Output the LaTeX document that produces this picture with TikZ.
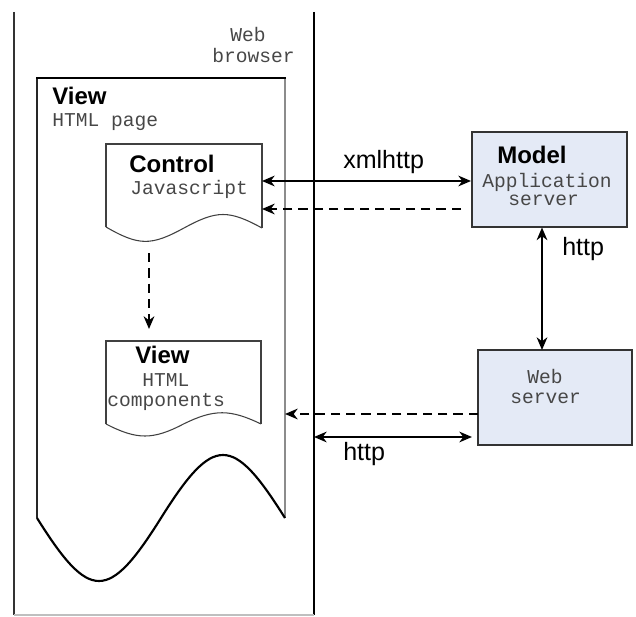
\documentclass[tikz,border=0pt]{standalone}
\usepackage{fontspec}
\setmainfont{Liberation Sans}
\newfontfamily\monofont{Liberation Mono}
\usetikzlibrary{arrows.meta}
\definecolor{srvfill}{RGB}{228,234,246}
\def\px{0.75pt}
\tikzset{
  bold/.style={inner sep=0pt, anchor=base west, font=\fontsize{18}{20}\selectfont\bfseries},
  lbl/.style={inner sep=0pt, anchor=base west, font=\fontsize{18.8}{21}\selectfont},
  mono/.style={inner sep=0pt, anchor=base west, text=black!72, font=\fontsize{14.7}{16}\monofont},
  srvbox/.style={draw=black!80, fill=srvfill, line width=1pt, inner sep=0pt},
  tip/.style={-{Stealth[length=9.5pt,width=8pt,inset=3pt]}},
  tips/.style={{Stealth[length=9.5pt,width=8pt,inset=3pt]}-{Stealth[length=9.5pt,width=8pt,inset=3pt]}},
  conn/.style={line width=1.5pt},
  dconn/.style={line width=2pt, dash pattern=on 7pt off 4.5pt},
  docline/.style={draw=black!75, line width=0.8pt},
}
\begin{document}
\begin{tikzpicture}[x=0.75pt,y=-0.75pt]
\useasboundingbox (0,0) rectangle (636,617);
% browser
\draw[black!80, line width=1pt] (14,12) -- (14,615);
\draw[black, line width=1pt] (314,12) -- (314,615);
\draw[black!25, line width=1pt] (14,615) -- (314,615);
\node[mono] (wb1) at (230,42) {Web};
\node[mono] (wb2) at (212,63) {browser};
% page
\draw[black!85, line width=0.8pt] (37,78) -- (37,518);
\draw[black!45, line width=1pt] (285,78) -- (285,518);
\draw[black, line width=2pt] (36,78) -- (286,78);
\draw[black, line width=1.6pt] (285,518) .. controls (232.4,434) and (213.6,434) .. (161,518)
   .. controls (108.4,602) and (89.6,602) .. (37,518);
\node[bold] (pv) at (52,104) {View};
\node[mono] (ph) at (52,127) {HTML page};
% control doc
\draw[docline] (106,227) -- (106,144) -- (262,144) -- (262,228);
\draw[docline] (262,228) .. controls (229,210) and (217,210) .. (184,228)
   .. controls (151,246) and (139,246) .. (106,227);
\coordinate (ctrlA) at (262,181);
\coordinate (ctrlB) at (262,209);
\coordinate (ctrlS) at (149,253);
\node[bold] (ct) at (129,172) {Control};
\node[mono] (cj) at (130,195) {Javascript};
% view components doc
\draw[docline] (106,424) -- (106,341) -- (261,341) -- (261,424);
\draw[docline] (261,424) .. controls (230,409) and (214,409) .. (183.5,424)
   .. controls (153,440) and (137,440) .. (106,424);
\coordinate (viewT) at (149,329);
\node[bold] (vt) at (135,363) {View};
\node[mono] (vh) at (142,386) {HTML};
\node[mono] (vc) at (107,406) {components};
% page edge coords
\coordinate (pageR) at (285,414);
\coordinate (brR) at (314,437);
% model
\node[srvbox, minimum width=155*\px, minimum height=95*\px] (model) at (549.5,179.5) {};
\node[bold] (mt) at (497,163) {Model};
\node[mono] (ma) at (482,187) {Application};
\node[mono] (ms) at (508,205) {server};
\coordinate (modA) at (471,181);
\coordinate (modB) at (461,209);
\coordinate (modS) at (542,227.5);
% web server
\node[srvbox, minimum width=154*\px, minimum height=95*\px] (ws) at (555,397.5) {};
\node[mono] (w1) at (527,383) {Web};
\node[mono] (w2) at (510,403) {server};
\coordinate (wsN) at (542,350);
\coordinate (wsA) at (478,414);
\coordinate (wsB) at (472,437);
% connectors
\draw[conn, tips] (ctrlA) -- (modA);
\node[lbl] (xl) at (343,168) {xmlhttp};
\draw[dconn, tip] (modB) -- (ctrlB);
\draw[dconn, tip] (ctrlS) -- (viewT);
\draw[conn, tips] (modS) -- (wsN);
\node[lbl] (h1) at (562,255) {http};
\draw[dconn, tip] (wsA) -- (pageR);
\draw[conn, tips] (brR) -- (wsB);
\node[lbl] (h2) at (343,460) {http};
\end{tikzpicture}
\end{document}
